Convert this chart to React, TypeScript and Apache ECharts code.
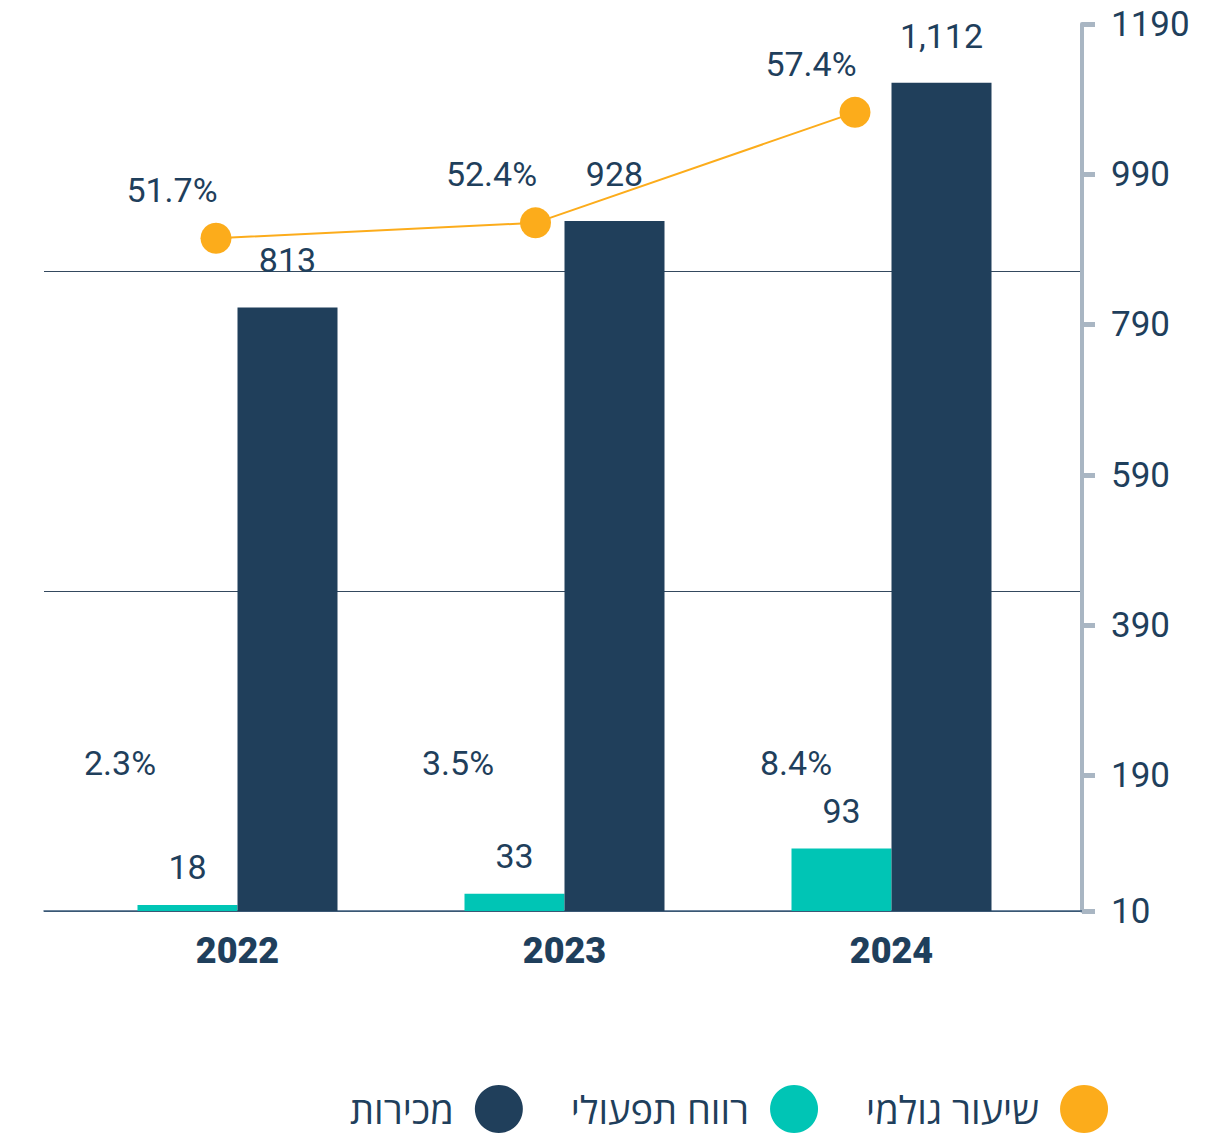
import React, { useEffect, useRef } from "react";
import * as echarts from "echarts";

const years = ["2022", "2023", "2024"];
const sales = [813, 928, 1112];
const opProfit = [18, 33, 93];
const grossMargin = [51.7, 52.4, 57.4];
const opMargin = [2.3, 3.5, 8.4];
const yTicks = [10, 190, 390, 590, 790, 990, 1190];

const NAVY = "#203f5b";
const TEAL = "#00c5b5";
const ORANGE = "#fcac1b";
const TEXT = "#1f3f5c";
const FONT = "Roboto, 'Noto Sans', sans-serif";
const HEB = "'Open Sans', 'Liberation Sans', 'DejaVu Sans', sans-serif";

export default function App() {
  const ref = useRef<HTMLDivElement>(null);
  useEffect(() => {
    document.body.style.margin = "0";
    const chart = echarts.init(ref.current!, undefined, { renderer: "svg" });
    const gridBase = { outerBoundsMode: "none", containLabel: false } as any;
    chart.setOption({
      animation: false,
      backgroundColor: "#ffffff",
      textStyle: { fontFamily: FONT },
      grid: [
        { ...gridBase, left: 44, right: 143, top: 24, bottom: 227 },
        { ...gridBase, left: 74, right: 170, top: 24, bottom: 227 },
        { ...gridBase, left: 216, right: 370, top: 24, bottom: 227 },
        { ...gridBase, left: 120, right: 429, top: 700, height: 40 },
        { ...gridBase, left: 44, right: 143, top: 271, bottom: 227 },
      ],
      xAxis: [
        {
          gridIndex: 0,
          type: "category",
          data: years,
          axisLine: { show: true, lineStyle: { color: "#3d5c7c", width: 1.5 } },
          axisTick: { show: false },
          axisLabel: { show: false },
          splitLine: { show: false },
        },
        {
          gridIndex: 1,
          type: "category",
          data: years,
          axisLine: { show: false },
          axisTick: { show: false },
          axisLabel: {
            show: true,
            margin: 22,
            color: TEXT,
            fontSize: 36,
            fontWeight: 900,
            fontFamily: FONT,
          },
        },
        {
          gridIndex: 2,
          type: "category",
          data: years,
          boundaryGap: false,
          show: false,
        },
        {
          gridIndex: 3,
          type: "category",
          data: years,
          boundaryGap: false,
          axisLine: { show: false },
          axisTick: { show: false },
          axisLabel: {
            show: true,
            interval: 0,
            margin: 6,
            color: TEXT,
            fontSize: 34,
            fontFamily: FONT,
            formatter: (_v: string, i: number) => opMargin[i].toFixed(1) + "%",
          },
        },
        {
          gridIndex: 4,
          type: "category",
          data: years,
          show: false,
        },
      ],
      yAxis: [
        {
          gridIndex: 0,
          type: "value",
          position: "right",
          min: 10,
          max: 1190,
          axisLine: { show: true, lineStyle: { color: "#a9b6c3", width: 4 } },
          axisTick: {
            show: true,
            length: 13,
            customValues: yTicks,
            lineStyle: { color: "#a9b6c3", width: 5 },
          },
          axisLabel: {
            show: true,
            customValues: yTicks,
            margin: 29,
            color: TEXT,
            fontSize: 35,
            fontFamily: FONT,
            formatter: (v: number) => String(v),
          },
          splitLine: { show: false },
        },
        {
          gridIndex: 1,
          type: "value",
          min: 10,
          max: 1190,
          show: false,
        },
        {
          gridIndex: 2,
          type: "value",
          min: 21.25,
          max: 61.4,
          show: false,
        },
        {
          gridIndex: 3,
          type: "value",
          show: false,
        },
        {
          gridIndex: 4,
          type: "value",
          min: 0,
          max: 2,
          interval: 1,
          axisLine: { show: false },
          axisTick: { show: false },
          axisLabel: { show: false },
          splitLine: { show: true, lineStyle: { color: "#34495e", width: 1 } },
        },
      ],
      legend: {
        data: ["מכירות", "רווח תפעולי", "שיעור גולמי"],
        left: 345,
        top: 1080,
        icon: "circle",
        itemWidth: 52,
        itemHeight: 48,
        itemGap: 48,
        align: "right",
        textStyle: {
          color: TEXT,
          fontSize: 38,
          lineHeight: 34,
          fontFamily: HEB,
          padding: [0, 14, 0, 0],
        },
      },
      series: [
        {
          name: "רווח תפעולי",
          type: "bar",
          xAxisIndex: 1,
          yAxisIndex: 1,
          data: opProfit,
          barWidth: 100,
          barGap: "0%",
          itemStyle: { color: TEAL },
          label: {
            show: true,
            position: "top",
            distance: 21,
            color: TEXT,
            fontSize: 34,
            fontFamily: FONT,
          },
        },
        {
          name: "מכירות",
          type: "bar",
          xAxisIndex: 1,
          yAxisIndex: 1,
          data: sales,
          barWidth: 100,
          barGap: "0%",
          itemStyle: { color: NAVY },
          label: {
            show: true,
            position: "top",
            distance: 30,
            color: TEXT,
            fontSize: 34,
            fontFamily: FONT,
            formatter: (p: any) => Number(p.value).toLocaleString("en-US"),
          },
        },
        {
          name: "שיעור גולמי",
          type: "line",
          xAxisIndex: 2,
          yAxisIndex: 2,
          data: grossMargin,
          symbol: "circle",
          symbolSize: 31,
          lineStyle: { color: ORANGE, width: 2 },
          itemStyle: { color: ORANGE },
          label: {
            show: true,
            position: "top",
            distance: 16,
            offset: [-44, 0],
            color: TEXT,
            fontSize: 34,
            fontFamily: FONT,
            formatter: (p: any) => Number(p.value).toFixed(1) + "%",
          },
        },
      ],
    });
    return () => chart.dispose();
  }, []);
  return (
    <div
      ref={ref}
      style={{ position: "fixed", left: 0, top: 0, width: 1225, height: 1138 }}
    />
  );
}
